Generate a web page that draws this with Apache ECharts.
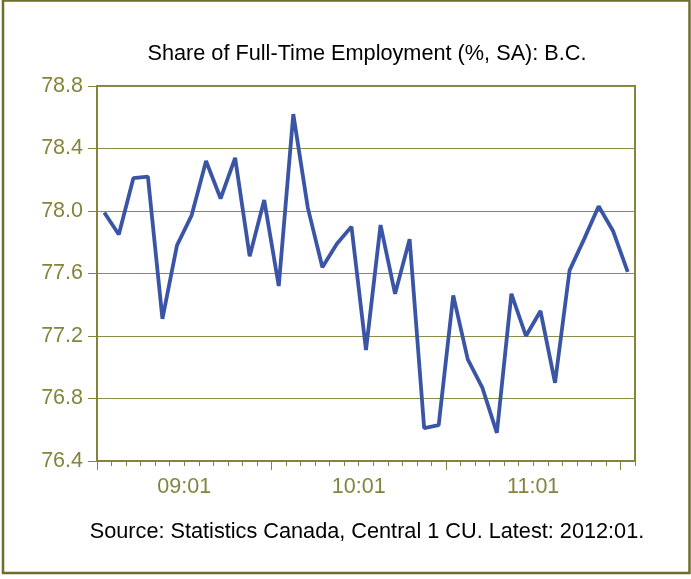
<!DOCTYPE html>
<html>
<head>
<meta charset="utf-8">
<script src="https://cdn.jsdelivr.net/npm/echarts@6/dist/echarts.min.js"></script>
<style>
  html, body { margin: 0; padding: 0; background: #fff; }
  #chart { width: 691px; height: 579px; }
</style>
</head>
<body>
<div id="chart"></div>
<script>
// months 2009:01 .. 2012:01
const months = [
  '2009:01', '2009:02', '2009:03', '2009:04', '2009:05', '2009:06',
  '2009:07', '2009:08', '2009:09', '2009:10', '2009:11', '2009:12',
  '2010:01', '2010:02', '2010:03', '2010:04', '2010:05', '2010:06',
  '2010:07', '2010:08', '2010:09', '2010:10', '2010:11', '2010:12',
  '2011:01', '2011:02', '2011:03', '2011:04', '2011:05', '2011:06',
  '2011:07', '2011:08', '2011:09', '2011:10', '2011:11', '2011:12',
  '2012:01'
];

const fullTimeShare = [
  77.99, 77.85, 78.21, 78.22, 77.31, 77.78, 77.97, 78.32, 78.08, 78.34,
  77.71, 78.07, 77.52, 78.62, 78.02, 77.64, 77.79, 77.90, 77.11, 77.91,
  77.47, 77.82, 76.61, 76.63, 77.46, 77.05, 76.87, 76.58, 77.47, 77.20,
  77.36, 76.90, 77.62, 77.82, 78.03, 77.87, 77.61
];

// year labels sit in the middle of each 12-month block
const tickLabels = ['09:01', '10:01', '11:01'];
const labelPos = [6, 18, 30];
const yearTicks = [0, 12, 24, 36];

const olive = '#84843c';
const font = "'Liberation Sans', Arial, sans-serif";

const chart = echarts.init(document.getElementById('chart'));

const option = {
  backgroundColor: '#fff',
  animation: false,
  title: [
    {
      text: 'Share of Full-Time Employment (%, SA): B.C.',
      left: 362,
      top: 38,
      textAlign: 'center',
      textStyle: { fontFamily: font, fontSize: 21.7, fontWeight: 'normal', color: '#000' }
    },
    {
      text: 'Source: Statistics Canada, Central 1 CU. Latest: 2012:01.',
      left: 362,
      top: 516,
      textAlign: 'center',
      textStyle: { fontFamily: font, fontSize: 21.7, fontWeight: 'normal', color: '#000' }
    }
  ],
  graphic: [
    {
      type: 'rect',
      shape: { x: 3, y: 0.5, width: 686.5, height: 572.5 },
      style: { fill: 'none', stroke: '#6e6e2c', lineWidth: 2.5 },
      silent: true
    }
  ],
  grid: {
    left: 97,
    right: 56,
    top: 86,
    bottom: 118,
    show: true,
    borderColor: olive,
    borderWidth: 2
  },
  xAxis: [
    {
      type: 'category',
      position: 'bottom',
      data: months,
      boundaryGap: true,
      axisLine: { show: true, lineStyle: { color: olive, width: 2 } },
      axisTick: { show: true, interval: 0, length: 5, lineStyle: { color: olive, width: 1 } },
      axisLabel: { show: false },
      splitLine: { show: false }
    },
    {
      type: 'value',
      min: 0,
      max: months.length,
      position: 'bottom',
      axisLine: { show: false },
      axisTick: {
        show: true,
        customValues: yearTicks,
        length: 9,
        lineStyle: { color: olive, width: 1 }
      },
      axisLabel: {
        customValues: labelPos,
        margin: 15,
        color: olive,
        fontFamily: font,
        fontSize: 21.5,
        formatter: v => tickLabels[labelPos.indexOf(v)] || ''
      },
      splitLine: { show: false }
    }
  ],
  yAxis: {
    type: 'value',
    min: 76.4,
    max: 78.8,
    interval: 0.4,
    axisLine: { show: true, lineStyle: { color: olive, width: 2 } },
    axisTick: { show: true, length: 9, lineStyle: { color: olive, width: 1 } },
    axisLabel: {
      color: olive,
      fontFamily: font,
      fontSize: 21.5,
      margin: 14,
      formatter: v => v.toFixed(1)
    },
    splitLine: { lineStyle: { color: '#8c8c48', width: 1 } }
  },
  series: [
    {
      type: 'line',
      xAxisIndex: 0,
      data: fullTimeShare,
      symbol: 'none',
      lineStyle: { color: '#3a55a5', width: 3.8 }
    }
  ]
};

chart.setOption(option);
</script>
</body>
</html>
